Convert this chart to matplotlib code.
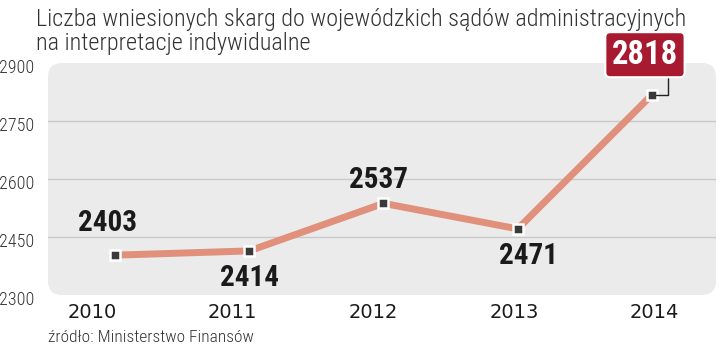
import numpy as np
import matplotlib.pyplot as plt
from matplotlib.patches import FancyBboxPatch
from matplotlib.transforms import IdentityTransform, ScaledTranslation

years = ["2010", "2011", "2012", "2013", "2014"]
values = [2403, 2414, 2537, 2471, 2818]
y_ticks = [2300, 2450, 2600, 2750, 2900]

title_lines = ["Liczba wniesionych skarg do wojewódzkich sądów administracyjnych",
               "na interpretacje indywidualne"]
source = "źródło: Ministerstwo Finansów"

# label offsets in pixels (dx, dy), last one goes into the red box
label_offsets = [(-7, 32), (0, -27), (-5, 23), (11, -27)]

COND = ["Roboto Condensed", "Barlow Condensed", "Liberation Sans Narrow", "DejaVu Sans"]

W, H = 721, 349
fig = plt.figure(figsize=(W / 100, H / 100), dpi=100)


def rect(x0, y0, x1, y1):
    return [x0 / W, 1 - y1 / H, (x1 - x0) / W, (y1 - y0) / H]


ax = fig.add_axes(rect(48, 63, 716, 295))
ax.set_facecolor("none")

# grey rounded background, drawn in pixels
bg = FancyBboxPatch((48 + 14, H - 295 + 14), 668 - 28, 232 - 28,
                    boxstyle="round,pad=14", fc="#ebebeb", ec="none",
                    transform=IdentityTransform(), zorder=0, clip_on=False)
ax.add_patch(bg)

x = np.arange(len(values))
ax.set_xlim(-0.499, 4.477)
ax.set_ylim(2300, 2900)

for t in y_ticks[1:-1]:
    ax.axhline(t, color="#c9c9c9", lw=1, zorder=1)

ax.plot(x, values, color="#e0907b", lw=5, solid_capstyle="round",
        solid_joinstyle="round", zorder=2)
ax.plot(x, values, ls="none", marker="s", ms=6.5, mfc="#3a3a3a", mec="white",
        mew=1.8, zorder=3)

bold = dict(family=COND, fontweight="bold")
for i, (dx, dy) in enumerate(label_offsets):
    ax.annotate(str(values[i]), (x[i], values[i]), xytext=(dx * 0.72, dy * 0.72),
                textcoords="offset points", ha="center", va="center",
                fontsize=21, color="#1a1a1a", **bold)

ax.annotate(str(values[-1]), (x[-1], values[-1]), xytext=(-7 * 0.72, 40 * 0.72),
            textcoords="offset points", ha="center", va="center",
            fontsize=23.5, color="white", zorder=5, **bold,
            bbox=dict(boxstyle="round,pad=0.2,rounding_size=0.15",
                      fc="#a81a2f", ec="white", lw=1.5),
            arrowprops=dict(arrowstyle="-", color="#222222", lw=1,
                            relpos=(0.85, 0), shrinkA=0, shrinkB=3,
                            connectionstyle="angle,angleA=-90,angleB=0,rad=0"))

# y tick labels, sitting a few pixels under their grid lines
ax.set_yticks(y_ticks)
ax.set_yticklabels([str(t) for t in y_ticks], family=COND,
                   fontweight="light", fontsize=13, color="#333333")
ax.tick_params(axis="y", length=0, pad=10)
shift = ScaledTranslation(0, -3 / 100, fig.dpi_scale_trans)
for lab in ax.get_yticklabels():
    lab.set_transform(lab.get_transform() + shift)

# year labels are spaced a bit wider than the points
ax.set_xticks(np.arange(len(years)) * 1.048 - 0.171)
ax.set_xticklabels(years, family="DejaVu Sans", fontsize=14, color="#1a1a1a")
ax.tick_params(axis="x", length=0, pad=6)

for s in ax.spines.values():
    s.set_visible(False)

fig.text(36 / W, 1 - 26 / H, title_lines[0], ha="left", va="baseline", family=COND,
         fontweight="light", fontsize=17.5, color="#333333")
fig.text(36 / W, 1 - 50 / H, title_lines[1], ha="left", va="baseline", family=COND,
         fontweight="light", fontsize=17.5, color="#333333")
fig.text(48 / W, 1 - 345 / H, source, ha="left", va="bottom", family=COND,
         fontweight="light", fontsize=12.5, color="#333333")

fig.savefig("out.png", dpi=100)
